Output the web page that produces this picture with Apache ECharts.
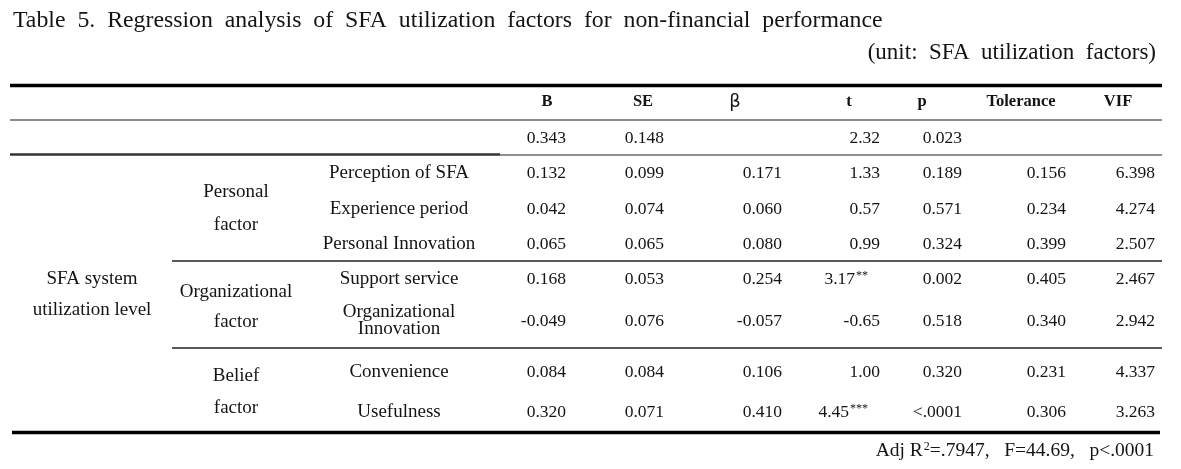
<!DOCTYPE html>
<html><head><meta charset="utf-8">
<script src="https://cdn.jsdelivr.net/npm/echarts@6/dist/echarts.min.js"></script>
<style>html,body{margin:0;padding:0;background:#fff}#c{width:1181px;height:469px}</style>
</head><body><div id="c"></div>
<script>
// ---------------- data ----------------
const titleText = 'Table 5. Regression analysis of SFA utilization factors for non-financial performance';
const unitText = '(unit: SFA utilization factors)';
const columns = ['B', 'SE', 'β', 't', 'p', 'Tolerance', 'VIF'];
const level1Labels = ['SFA system\nutilization level'];
const level2Labels = ['Personal\nfactor', 'Organizational\nfactor', 'Belief\nfactor'];
const level3Labels = ['Perception of SFA', 'Experience period', 'Personal Innovation', 'Support service', 'Organizational\nInnovation', 'Convenience', 'Usefulness'];
const constantRow = ['0.343', '0.148', '', '2.32', '0.023', '', ''];
const B = ['0.132', '0.042', '0.065', '0.168', '-0.049', '0.084', '0.320'];
const SE = ['0.099', '0.074', '0.065', '0.053', '0.076', '0.084', '0.071'];
const beta = ['0.171', '0.060', '0.080', '0.254', '-0.057', '0.106', '0.410'];
const tValues = ['1.33', '0.57', '0.99', '3.17', '-0.65', '1.00', '4.45'];
const tStars = ['', '', '', '**', '', '', '***'];
const pValues = ['0.189', '0.571', '0.324', '0.002', '0.518', '0.320', '<.0001'];
const tolerance = ['0.156', '0.234', '0.399', '0.405', '0.340', '0.231', '0.306'];
const VIF = ['6.398', '4.274', '2.507', '2.467', '2.942', '4.337', '3.263'];
const fitStats = ['.7947', '44.69', '<.0001']; // Adj R2, F, p

// ---------------- layout (style, not data) ----------------
const WIDE = s => s.replace(/ /g, '\u2002');   // wide word spacing like the source typeface
const headerX = [547, 643, 735, 849, 922, 1021, 1118];
const valueRightX = [566, 664, 782, 880, 962, 1066, 1155];
const starShift = 12;
const lvlX = [92, 236, 399];
const headerY = 102, constY = 138;
const bodyY = [173, 209, 244, 279, 321, 372, 412];
const lvl2Y = [208.5, 307, 392], lvl2LH = [33, 30, 32];
const lvl1Y = 294.5, lvl1LH = 31;
const SERIF = '"Liberation Serif", "Times New Roman", serif';
const LABEL_FONT = 'normal 19px ' + SERIF;
const NUM_FONT = 'normal 17.5px ' + SERIF;
const INK = '#141414';

// ---------------- build cells ----------------
const cells = [];
function add(text, x, y, align, opt) { cells.push(Object.assign({ text, x, y, align }, opt || {})); }
columns.forEach((c, i) => add(c, headerX[i], headerY, 'center',
  c === 'β' ? { font: 'normal 18px "DejaVu Sans", sans-serif' } : { font: 'bold 16.5px ' + SERIF }));
constantRow.forEach((v, i) => { if (v) add(v, valueRightX[i], constY, 'right'); });
const valueCols = [B, SE, beta, tValues, pValues, tolerance, VIF];
bodyY.forEach((y, r) => {
  valueCols.forEach((col, ci) => {
    if (ci === 3 && tStars[r]) {
      add(col[r] + '{s|' + tStars[r] + '}', valueRightX[ci] - starShift, y, 'right', { rich: true });
    } else add(col[r], valueRightX[ci], y, 'right');
  });
  add(level3Labels[r], lvlX[2], y, 'center', { lh: 17, font: LABEL_FONT });
});
level2Labels.forEach((t, i) => add(t, lvlX[1], lvl2Y[i], 'center', { lh: lvl2LH[i], font: LABEL_FONT }));
level1Labels.forEach(t => add(t, lvlX[0], lvl1Y, 'center', { lh: lvl1LH, font: LABEL_FONT }));
add('Adj R{s|2}=' + fitStats[0] + ',\u2002 F=' + fitStats[1] + ',\u2002 p' + fitStats[2], 1154, 451, 'right',
  { rich: true, font: 'normal 19.5px ' + SERIF });

// rules: [x1, x2, y, width, color]
const rules = [
  [10, 1162, 85.5, 3.5, '#000'],
  [10, 1162, 120, 2, '#8a8a8a'],
  [10, 500, 154.5, 2.4, '#333'],
  [500, 1162, 155, 1.2, '#222'],
  [172, 1162, 261, 1.3, '#222'],
  [172, 1162, 348, 1.3, '#222'],
  [12, 1160, 432.5, 3.5, '#000']
];

const chart = echarts.init(document.getElementById('c'), null, { renderer: 'canvas' });
chart.setOption({
  animation: false,
  backgroundColor: '#fff',
  title: [
    { text: WIDE(titleText), left: 8, top: 4, textStyle: { fontFamily: SERIF, fontSize: 23.8, fontWeight: 'normal', color: INK } },
    { text: WIDE(unitText), right: 20, top: 36, textStyle: { fontFamily: SERIF, fontSize: 23, fontWeight: 'normal', color: INK } }
  ],
  grid: { left: 0, top: 0, width: 1181, height: 469 },
  xAxis: { type: 'value', min: 0, max: 1181, show: false },
  yAxis: { type: 'value', min: 0, max: 469, inverse: true, show: false },
  series: [
    {
      type: 'custom', coordinateSystem: 'cartesian2d', silent: true,
      data: rules.map((r, i) => [i]),
      encode: { x: 0 },
      renderItem: (params, api) => {
        const r = rules[api.value(0)];
        const a = api.coord([r[0], r[2]]), b = api.coord([r[1], r[2]]);
        return { type: 'line', shape: { x1: a[0], y1: a[1], x2: b[0], y2: b[1] }, style: { stroke: r[4], lineWidth: r[3] } };
      }
    },
    {
      type: 'custom', coordinateSystem: 'cartesian2d', silent: true,
      data: cells.map((c, i) => [i]),
      encode: { x: 0 },
      renderItem: (params, api) => {
        const c = cells[api.value(0)];
        const p = api.coord([c.x, c.y]);
        const style = {
          text: c.text, fill: INK,
          font: c.font || NUM_FONT,
          align: c.align, verticalAlign: 'middle',
          textAlign: c.align, textVerticalAlign: 'middle'
        };
        if (c.lh) style.lineHeight = c.lh;
        if (c.rich) style.rich = { s: { fontSize: 12, fontFamily: SERIF, verticalAlign: 'top', lineHeight: 16, padding: [0, 0, 7, 1] } };
        return { type: 'text', x: p[0], y: p[1], style };
      }
    }
  ]
});
</script></body></html>
